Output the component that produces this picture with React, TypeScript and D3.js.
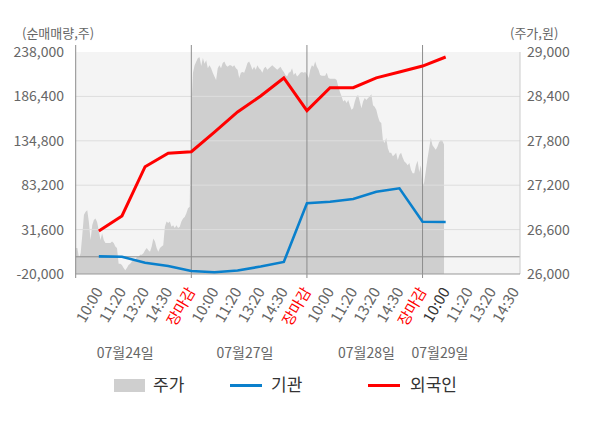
import React from 'react';
import * as d3 from 'd3';

// ---- data ----
const tickNames = ['10:00', '11:20', '13:20', '14:30', '장마감'];
const dayLabels = ['07월24일', '07월27일', '07월28일', '07월29일'];
const dayLabelSlots = [30, 102.5, 176, 220.5];
const slotsPerDay = 70;
const slotsPerTick = 14;
const slotDomainMax = 269;

const priceDay1 = [
  26350, 26350, 26220, 26280, 26530, 26800, 26840, 26860, 26700, 26460,
  26660, 26730, 26750, 26700, 26580, 26460, 26550, 26460, 26420, 26420,
  26420, 26420, 26440, 26420, 26370, 26350, 26140, 26140, 26120, 26080,
  26050, 26080, 26120, 26140, 26170, 26190, 26190, 26230, 26230, 26260,
  26260, 26280, 26320, 26350, 26320, 26300, 26370, 26480, 26440, 26350,
  26300, 26350, 26370, 26390, 26640, 26710, 26690, 26710, 26640, 26660,
  26620, 26660, 26620, 26640, 26710, 26750, 26770, 26820, 26890, 26910,
];
const priceDay2 = [
  28220, 28720, 28820, 28870, 28920, 28930, 28810, 28920, 28840, 28890,
  28780, 28820, 28780, 28720, 28670, 28620, 28780, 28820, 28780, 28850,
  28870, 28820, 28800, 28820, 28820, 28800, 28820, 28780, 28760, 28650,
  28720, 28730, 28720, 28780, 28850, 28870, 28820, 28760, 28800, 28760,
  28820, 28780, 28760, 28720, 28780, 28800, 28760, 28780, 28800, 28820,
  28800, 28780, 28760, 28780, 28800, 28760, 28730, 28690, 28670, 28720,
  28730, 28780, 28690, 28720, 28670, 28690, 28720, 28730, 28720, 28730,
];
const priceDay3 = [
  28700, 28650, 28760, 28820, 28800, 28870, 28800, 28760, 28690, 28680,
  28680, 28680, 28720, 28650, 28640, 28640, 28640, 28640, 28620, 28530,
  28460, 28400, 28330, 28350, 28310, 28350, 28280, 28220, 28240, 28330,
  28400, 28420, 28330, 28240, 28330, 28380, 28350, 28380, 28400, 28430,
  28280, 28260, 28220, 28130, 28060, 28040, 27810, 27770, 27840, 27700,
  27640, 27640, 27590, 27610, 27640, 27540, 27610, 27640, 27570, 27520,
  27500, 27470, 27500, 27410, 27360, 27360, 27470, 27530, 27380, 27470,
];
const priceDay4 = [
  27180, 27240, 27400, 27560, 27700, 27840, 27740, 27710, 27680, 27720,
  27780, 27810, 27800, 27750,
];

const foreignNet = [
  30000, 47400, 104700, 120300, 122100, 145000, 168300, 186900,
  207800, 169800, 196500, 196500, 208000, 214800, 221700, 232200,
];
const instNet = [
  500, 0, -6900, -10700, -16500, -18000, -15900, -11300,
  -6000, 62200, 64000, 67200, 75600, 79600, 40800, 40400,
];

const leftTicks = [-20000, 31600, 83200, 134800, 186400, 238000];
const rightTicks = [26000, 26600, 27200, 27800, 28400, 29000];
const leftLabels = ['-20,000', '31,600', '83,200', '134,800', '186,400', '238,000'];
const rightLabels = ['26,000', '26,600', '27,200', '27,800', '28,400', '29,000'];

const FONT = '"Noto Sans CJK KR", "Noto Sans", sans-serif';

export default function App() {
  const left = 75.7, right = 520, top = 52, bottom = 274;
  const x = d3.scaleLinear().domain([0, slotDomainMax]).range([left, right]);
  const yL = d3.scaleLinear().domain([-20000, 238000]).range([bottom, top]);
  const yR = d3.scaleLinear().domain([26000, 29000]).range([bottom, top]);

  const prices: { s: number; p: number }[] = [];
  [priceDay1, priceDay2, priceDay3, priceDay4].forEach((arr, d) =>
    arr.forEach((p, i) => prices.push({ s: d * slotsPerDay + i, p }))
  );

  const area = d3
    .area<{ s: number; p: number }>()
    .x((d) => x(d.s))
    .y0(bottom)
    .y1((d) => yR(d.p));

  const line = d3
    .line<number>()
    .x((_, i) => x(slotsPerTick + i * slotsPerTick))
    .y((v) => yL(v));

  const ticks: { s: number; name: string; idx: number }[] = [];
  for (let s = slotsPerTick; s <= slotDomainMax; s += slotsPerTick) {
    const k = (s / slotsPerTick - 1) % tickNames.length;
    ticks.push({ s, name: tickNames[k], idx: s / slotsPerTick });
  }
  const daySeps = [0, 1, 2, 3].map((d) => d * slotsPerDay);

  return (
    <svg
      width={600}
      height={428}
      style={{ position: 'fixed', left: 0, top: 0, background: '#fff' }}
      fontFamily={FONT}
    >
      <rect x={left} y={top} width={right - left} height={bottom - top} fill="#f4f4f4" />
      <path d={area(prices) || ''} fill="#cfcfcf" />
      {leftTicks.slice(1, -1).map((t) => (
        <line key={t} x1={left} x2={right} y1={yL(t)} y2={yL(t)} stroke="#dddddd" strokeWidth={1} />
      ))}
      <line x1={left} x2={right} y1={yL(0)} y2={yL(0)} stroke="#8c8c8c" strokeWidth={1} />
      <line x1={right} x2={right} y1={top} y2={bottom} stroke="#cccccc" strokeWidth={1} />
      {daySeps.map((s) => (
        <line key={s} x1={x(s)} x2={x(s)} y1={45} y2={bottom + 4} stroke="#8c8c8c" strokeWidth={1} />
      ))}
      <line x1={left} x2={right} y1={bottom} y2={bottom} stroke="#999999" strokeWidth={1} />

      <path d={line(instNet) || ''} fill="none" stroke="#0a80cc" strokeWidth={2.6} />
      <path d={line(foreignNet) || ''} fill="none" stroke="#ff0000" strokeWidth={3} />

      {leftTicks.map((t, i) => (
        <text key={t} x={64} y={yL(t)} dy="0.35em" textAnchor="end" fontSize={14} fill="#666">
          {leftLabels[i]}
        </text>
      ))}
      {rightTicks.map((t, i) => (
        <text key={t} x={527} y={yR(t)} dy="0.35em" textAnchor="start" fontSize={14} fill="#666">
          {rightLabels[i]}
        </text>
      ))}
      <text x={22} y={33} dy="0.35em" fontSize={13} fill="#666">(순매매량,주)</text>
      <text x={510} y={33} dy="0.35em" fontSize={13} fill="#666">(주가,원)</text>

      {ticks.map((t) => {
        const color = t.name === '장마감' ? '#ff0000' : t.idx === 16 ? '#333' : '#666';
        return (
          <text
            key={t.s}
            transform={`translate(${x(t.s) - 1},288) rotate(-60)`}
            textAnchor="end"
            dominantBaseline="central"
            fontSize={15}
            fill={color}
          >
            {t.name}
          </text>
        );
      })}
      {dayLabels.map((l, i) => (
        <text key={l} x={x(dayLabelSlots[i])} y={353} dy="0.35em" textAnchor="middle" fontSize={14} fill="#666">
          {l}
        </text>
      ))}

      <g fontSize={17} fill="#333">
        <rect x={114} y={379} width={31} height={13} fill="#cfcfcf" />
        <text x={153} y={385.5} dy="0.35em">주가</text>
        <line x1={230} x2={262} y1={385.5} y2={385.5} stroke="#0a80cc" strokeWidth={3} />
        <text x={271} y={385.5} dy="0.35em">기관</text>
        <line x1={368} x2={400} y1={385.5} y2={385.5} stroke="#ff0000" strokeWidth={3} />
        <text x={410} y={385.5} dy="0.35em">외국인</text>
      </g>
    </svg>
  );
}
